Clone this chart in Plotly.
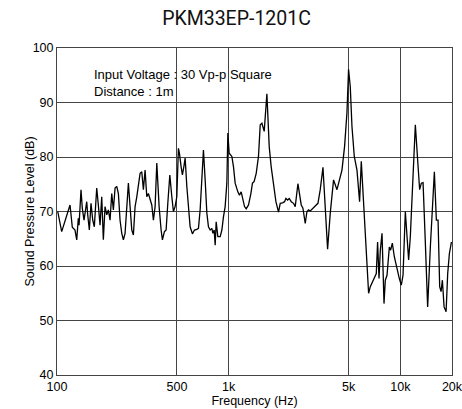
import math
import plotly.graph_objects as go

freq_hz = [
    101, 106.5, 119.1, 122.8, 127.3, 130.3, 133.1, 134.4, 138.0, 140.4, 143.7, 149.0, 151.0, 154.3,
    157.8, 161.5, 165.0, 170.4, 174.1, 178.1, 182.2, 186.2, 190.5, 194.9, 199.1, 203.7, 208.4, 213.0,
    217.9, 222.9, 227.8, 233.0, 238.4, 243.6, 249.2, 255.0, 260.5, 266.5, 272.7, 278.6, 285.0, 291.6,
    297.9, 304.8, 311.8, 318.6, 326.0, 333.4, 340.7, 348.6, 356.6, 364.4, 372.8, 381.4,
    393.4, 404.1, 411.2, 422.4, 432.1, 442.1, 454.2, 466.6, 476.6, 487.6, 498.9, 509.7, 516.6, 528.5,
    537.8, 548.1, 557.8, 570.6, 583.0, 596.4, 615.1, 631.9, 652.6, 666.8, 682.1, 697.9, 713.1, 729.5,
    746.4, 762.6, 780.2, 798.2, 809.1, 823.3, 834.4, 845.7, 865.0, 892.2, 912.8, 932.5, 954.0, 976.1,
    989.3, 1006.8, 1044, 1067, 1091, 1131, 1156, 1183, 1204, 1237, 1265, 1305, 1347, 1376, 1408, 1447,
    1492,
    1527, 1562, 1611, 1670, 1723, 1769, 1825, 1885, 1952, 1997, 2060, 2116, 2156, 2203, 2254, 2315,
    2387, 2442, 2532, 2587, 2647, 2708, 2793, 2858, 2920, 2987, 3081, 3194, 3312, 3416, 3543, 3654,
    3770, 3907, 4084, 4275, 4409, 4571, 4733, 4888, 4994,
    5110, 5228, 5393, 5591, 5790, 5924, 6109, 6334, 6535, 6685, 6895, 7082, 7245, 7373, 7514, 7647,
    7823, 8035, 8176, 8365, 8629, 8780, 8984, 9226, 9568, 9867, 10135, 10368, 10695, 10941, 11179,
    11437, 11795, 12232, 12615, 12957, 13257, 13565, 13990, 14428, 14960, 15369, 15788, 16217, 16591,
    16954, 17274, 17579, 17985, 18475, 18876, 19313, 19843,
]

spl_db = [
    70.0, 66.3, 71.2, 67.1, 66.6, 64.8, 68.75, 67.5, 74.0, 70.6, 68.4, 71.8, 69.4, 66.6,
    71.5, 68.4, 67.2, 74.3, 71.2, 67.5, 72.7, 64.8, 70.9, 69.4, 70.3, 68.4, 73.3, 70.3,
    74.3, 74.6, 73.3, 68.4, 66.0, 64.8, 66.0, 70.9, 75.2, 70.9, 66.6, 65.7, 70.9, 72.7,
    75.2, 77.0, 77.3, 74.0, 77.6, 72.7, 73.3, 72.1, 71.2, 68.4, 70.9, 78.9,
    70.9, 66.6, 64.8, 66.3, 66.6, 71.5, 76.7, 72.7, 70.0, 70.9, 72.7, 81.6, 80.7, 78.2,
    76.7, 78.2, 79.8, 74.6, 70.0, 67.2, 65.9, 66.6, 66.7, 66.9, 70.3, 76.4, 81.3, 75.8,
    69.7, 67.2, 66.6, 66.9, 66.0, 66.6, 63.8, 68.1, 65.4, 65.4, 66.6, 69.0, 70.9, 75.2,
    84.4, 80.7, 80.1, 78.2, 75.2, 73.6, 73.0, 73.6, 72.7, 70.9, 70.5, 71.2, 73.3, 75.2, 75.5, 77.0,
    80.1,
    85.9, 86.2, 84.7, 91.6, 81.9, 78.2, 74.6, 71.8, 69.9, 71.5, 71.6, 71.8, 72.4, 72.1, 72.4, 71.8,
    71.5, 70.9, 75.1, 72.7, 71.2, 70.6, 67.8, 70.0, 70.3, 70.1, 70.6, 71.0, 71.5, 74.0, 78.1, 69.7,
    63.1, 69.7, 75.8, 74.0, 75.5, 77.6, 81.9, 88.1, 96.1,
    92.9, 85.6, 80.1, 77.6, 71.8, 79.2, 70.9, 61.7, 55.0, 56.2, 57.1, 57.7, 58.6, 64.4, 57.7, 62.9,
    66.0, 53.1, 57.4, 58.3, 63.5, 62.9, 64.2, 61.7, 59.2, 57.7, 56.5, 58.3, 70.0, 66.0, 61.1,
    65.4, 74.6, 85.9, 79.5, 74.0, 75.2, 75.3, 64.2, 52.5, 63.5, 71.5, 77.3, 68.4, 68.4,
    56.2, 55.3, 57.4, 52.5, 51.6, 58.6, 62.3, 64.4,
]

x_tick_vals = [100, 500, 1000, 5000, 10000, 20000]
x_tick_text = ["100", "500", "1k", "5k", "10k", "20k"]
y_tick_vals = [40, 50, 60, 70, 80, 90, 100]

title_text = "PKM33EP-1201C"
x_title = "Frequency (Hz)"
y_title = "Sound Pressure Level (dB)"
note_lines = ["Input Voltage : 30 Vp-p Square", "Distance : 1m"]
note_y = [0.9197, 0.8676]

font_main = "Liberation Sans, Arial, sans-serif"
grid_col = "#444444"
fs = 12.5

fig = go.Figure()
fig.add_trace(go.Scatter(
    x=freq_hz, y=spl_db, mode="lines",
    line=dict(color="black", width=1.3),
    showlegend=False, hoverinfo="skip",
))

annos = [
    dict(
        text=t, xref="paper", yref="paper",
        x=0.089, y=yy, xanchor="left", yanchor="middle", showarrow=False,
        align="left", font=dict(size=13, color="black"),
    )
    for t, yy in zip(note_lines, note_y)
]
annos.append(dict(
    text=y_title, xref="paper", yref="paper",
    x=-28 / 395, y=0.5, xanchor="center", yanchor="middle",
    textangle=-90, showarrow=False, font=dict(size=fs, color="black"),
))

fig.update_layout(
    width=462, height=409,
    margin=dict(l=57, r=10, t=48, b=34, autoexpand=False),
    paper_bgcolor="white", plot_bgcolor="white",
    font=dict(family=font_main, size=fs, color="black"),
    hovermode=False,
    title=dict(
        text=title_text, x=0.512, xanchor="center", y=1 - 18.5 / 409, yanchor="middle",
        font=dict(family="Roboto, sans-serif", size=19.5, color="#111111"),
    ),
    xaxis=dict(
        type="log", range=[2, math.log10(20000)], automargin=False,
        tickmode="array", tickvals=x_tick_vals, ticktext=x_tick_text,
        ticklabeloverflow="allow",
        showgrid=True, gridcolor=grid_col, gridwidth=1,
        showline=True, linecolor=grid_col, linewidth=1, mirror=True,
        ticks="", zeroline=False,
        title=dict(text=x_title, standoff=0, font=dict(size=fs)),
        tickfont=dict(size=fs),
    ),
    yaxis=dict(
        range=[40, 100], tickmode="array", tickvals=y_tick_vals, automargin=False,
        ticklabeloverflow="allow",
        showgrid=True, gridcolor=grid_col, gridwidth=1,
        showline=True, linecolor=grid_col, linewidth=1, mirror=True,
        ticks="", zeroline=False,
        tickfont=dict(size=fs),
    ),
    annotations=annos,
)

fig.write_html(
    "out.html",
    config={"displayModeBar": False, "staticPlot": True},
    post_script="document.body.style.margin='0';document.body.style.overflow='hidden';",
)
